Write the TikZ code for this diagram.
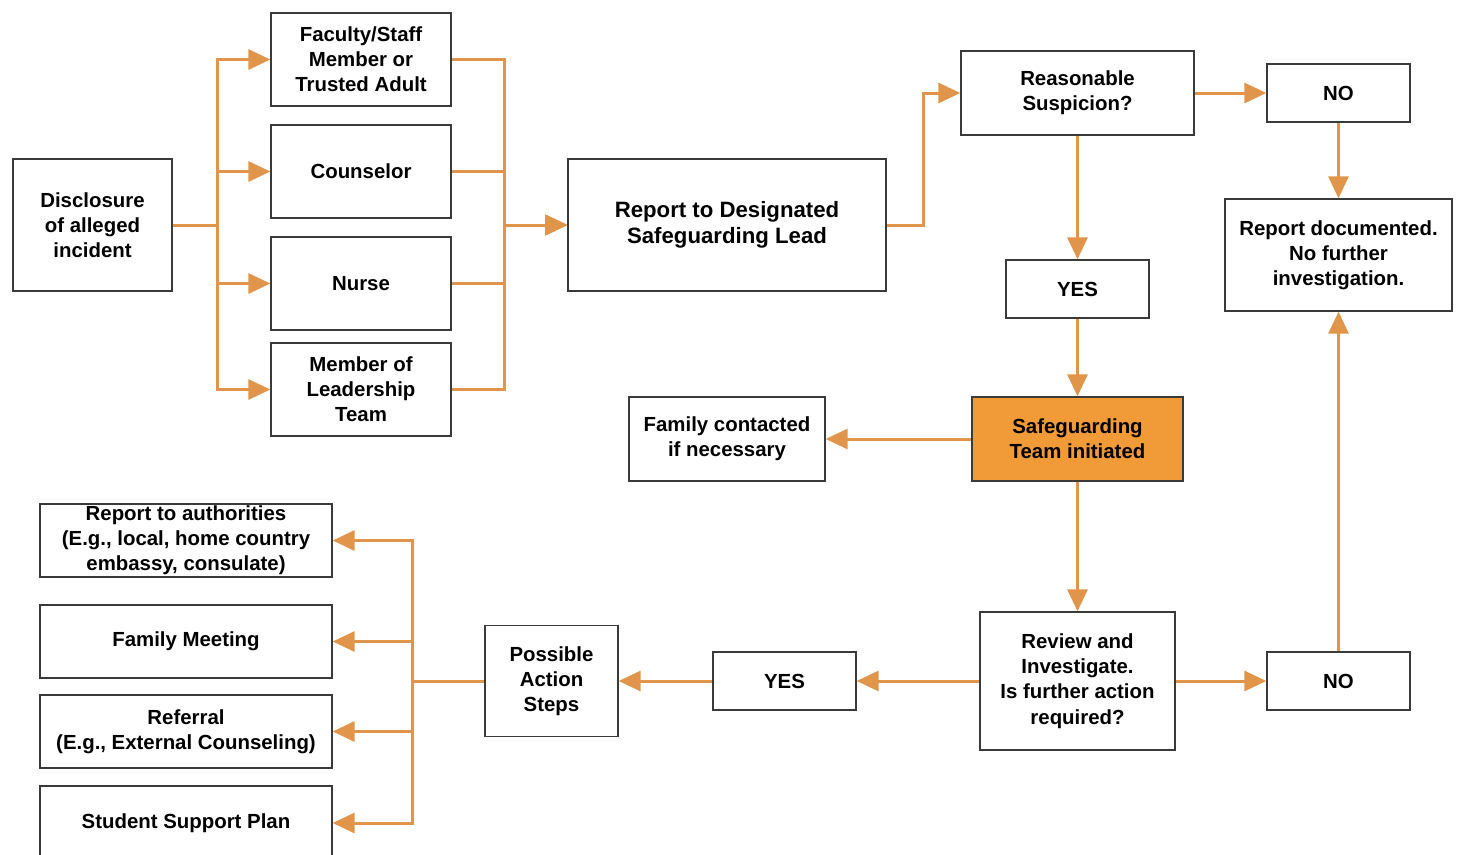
\documentclass[tikz,border=0pt]{standalone}
\usepackage{fontspec}
\setmainfont{Liberation Sans}
\usetikzlibrary{arrows.meta}
\definecolor{lineor}{HTML}{E0954A}
\definecolor{fillor}{HTML}{F09A38}
\definecolor{bord}{HTML}{3A3A3A}
\begin{document}
\begin{tikzpicture}[x=1pt,y=-1pt,
  box/.style={draw=bord,line width=1.3pt,fill=white,inner sep=0pt,align=center,
    font=\fontsize{20.4}{25.2}\selectfont\bfseries},
  ln/.style={draw=lineor,line width=3pt},
  arr/.style={ln,-{Triangle[length=22pt,width=20pt]}},
]
\useasboundingbox (0,0) rectangle (1461,854);
% nodes
\node[box,minimum width=159pt,minimum height=132pt] (disc) at (92.5,225) {Disclosure\\of alleged\\incident};
\node[box,minimum width=180pt,minimum height=93pt] (fac) at (361,59.5) {Faculty/Staff\\Member or\\Trusted Adult};
\node[box,minimum width=180pt,minimum height=93pt] (cou) at (361,171.5) {Counselor};
\node[box,minimum width=180pt,minimum height=93pt] (nur) at (361,283.5) {Nurse};
\node[box,minimum width=180pt,minimum height=93pt] (lead) at (361,389.5) {Member of\\Leadership\\Team};
\node[box,minimum width=318pt,minimum height=132pt,font=\fontsize{22.2}{26}\selectfont\bfseries] (rep) at (727,225) {Report to Designated\\Safeguarding Lead};
\node[box,minimum width=233pt,minimum height=84pt] (reas) at (1077.5,93) {Reasonable\\Suspicion?};
\node[box,minimum width=143pt,minimum height=58pt] (notop) at (1338.5,93) {NO};
\node[box,minimum width=227pt,minimum height=112pt] (doc) at (1338.5,255) {Report documented.\\No further\\investigation.};
\node[box,minimum width=143pt,minimum height=58pt] (yestop) at (1077.5,289) {YES};
\node[box,fill=fillor,minimum width=211pt,minimum height=84pt] (safe) at (1077.5,439) {Safeguarding\\Team initiated};
\node[box,minimum width=196pt,minimum height=84pt] (fam) at (727,439) {Family contacted\\if necessary};
\node[box,minimum width=195pt,minimum height=138pt] (rev) at (1077.5,681) {Review and\\Investigate.\\Is further action\\required?};
\node[box,minimum width=143pt,minimum height=58pt] (nobot) at (1338.5,681) {NO};
\node[box,minimum width=143pt,minimum height=58pt] (yesbot) at (784.5,681) {YES};
\node[box,minimum width=133pt,minimum height=111pt] (poss) at (551.5,681) {Possible\\Action\\Steps};
\node[box,minimum width=292pt,minimum height=73pt] (auth) at (186,540.5) {Report to authorities\\(E.g., local, home country\\embassy, consulate)};
\node[box,minimum width=292pt,minimum height=73pt] (meet) at (186,641.5) {Family Meeting};
\node[box,minimum width=292pt,minimum height=73pt] (refl) at (186,731.5) {Referral\\(E.g., External Counseling)};
\node[box,minimum width=292pt,minimum height=74pt] (ssp) at (186,823) {Student Support Plan};
% junctions
\coordinate (lt) at (217,225);
\coordinate (rt) at (504,225);
\coordinate (rj) at (923,225);
\coordinate (bj) at (412,681);
% connectors
\foreach \t in {fac,cou,nur,lead}{
  \draw[arr] (disc.east) -- (lt) |- (\t.west);
  \draw[arr] (\t.east) -| (rt) -- (rep.west);
}
\draw[arr] (rep.east) -- (rj) |- (reas.west);
\draw[arr] (reas.east) -- (notop.west);
\draw[arr] (notop.south) -- (doc.north);
\draw[arr] (reas.south) -- (yestop.north);
\draw[arr] (yestop.south) -- (safe.north);
\draw[arr] (safe.west) -- (fam.east);
\draw[arr] (safe.south) -- (rev.north);
\draw[arr] (rev.east) -- (nobot.west);
\draw[arr] (nobot.north) -- (doc.south);
\draw[arr] (rev.west) -- (yesbot.east);
\draw[arr] (yesbot.west) -- (poss.east);
\foreach \t in {auth,meet,refl,ssp}{
  \draw[arr] (poss.west) -- (bj) |- (\t.east);
}
\end{tikzpicture}
\end{document}
